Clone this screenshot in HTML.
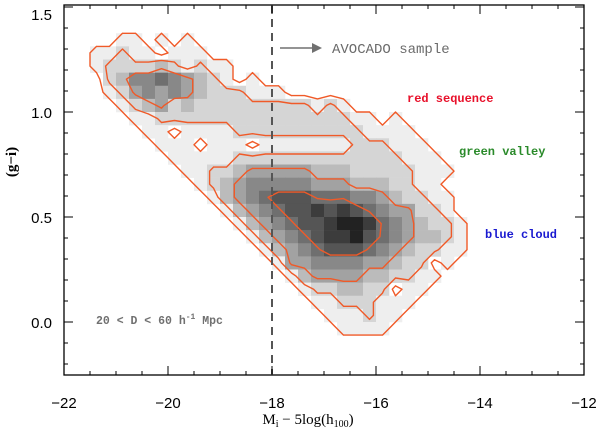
<!DOCTYPE html>
<html><head><meta charset="utf-8"><style>
html,body{margin:0;padding:0;background:#fff;}
svg{display:block;}
</style></head><body>
<svg id="chart" width="600" height="429" viewBox="0 0 600 429" xmlns="http://www.w3.org/2000/svg">
<g id="cells"></g>
<g id="contours"></g>
<g id="axes"></g>
<g font-family="'Liberation Mono', monospace">
  <line x1="280" y1="48" x2="314" y2="48" stroke="#707070" stroke-width="1.5"/>
  <polygon points="322,48 312,43 312,53" fill="#707070"/>
  <text x="332" y="53" font-size="14" fill="#6a6a6a">AVOCADO sample</text>
  <text x="407" y="102" font-size="12" font-weight="bold" fill="#e8102a">red sequence</text>
  <text x="459" y="155" font-size="12" font-weight="bold" fill="#2a8a2a">green valley</text>
  <text x="485" y="238" font-size="12" font-weight="bold" fill="#1a1ad0">blue cloud</text>
  <text x="96" y="324" font-size="11.5" font-weight="bold" fill="#707070">20 &lt; D &lt; 60 h<tspan dy="-5" font-size="8">-1</tspan><tspan dy="5"> Mpc</tspan></text>
</g>
</svg>
<script>
// x bins start at -21.75 (width 0.25); y rows top edge at 1.375 descending (height 0.0625)
const xBinStart = -21.75, xBinWidth = 0.25;
const yBinTop = 1.375, yBinHeight = 0.0625;
const densityRows = [
"00011010100000000000000000000000",
"01121101110000000000000000000000",
"01222232121100000000000000000000",
"00235565432101000000000000000000",
"00124545432221110000000000000000",
"00012342322222222212100000000000",
"00001122222222222222211010000000",
"00000110111122222222221111000000",
"00000011101110111111122211100000",
"00000001111122222222222221110000",
"00000000112234444433322222111000",
"00000000012345555544433322110000",
"00000000001345677766655432211000",
"00000000000134567787876544221000",
"00000000000013456778998654322100",
"00000000000001345678897654332100",
"00000000000000134567776543221100",
"00000000000000014455554432201000",
"00000000000000001344443322110000",
"00000000000000000122332201100000",
"00000000000000000011222111000000",
"00000000000000000001112110000000",
"00000000000000000000111100000000",
"00000000000000000000000000000000"
];
const contourLevels = [0.5, 1.7, 3.6, 6.2];
const xTicks = [-22, -20, -18, -16, -14, -12];
const xTickLabels = ["−22", "−20", "−18", "−16", "−14", "−12"];
const yTicks = [0.0, 0.5, 1.0, 1.5];
const yTickLabels = ["0.0", "0.5", "1.0", "1.5"];
const sampleCut = -18;

const NS = "http://www.w3.org/2000/svg";
const L = 64, R = 584, T = 5, B = 375;
function X(v){ return 64 + (v + 22) * 52; }
function Y(v){ return 322 - v * 210; }
function mk(tag, attrs, parent){
  const e = document.createElementNS(NS, tag);
  for (const k in attrs) e.setAttribute(k, attrs[k]);
  parent.appendChild(e); return e;
}
const grid = densityRows.map(r => r.split("").map(Number));
const nR = grid.length, nC = grid[0].length;

const cg = document.getElementById("cells");
for (let r = 0; r < nR; r++) for (let c = 0; c < nC; c++) {
  const v = grid[r][c]; if (!v) continue;
  const g = Math.round(238 - 25.5 * (v - 1));
  const x0 = X(xBinStart + c * xBinWidth), x1 = X(xBinStart + (c + 1) * xBinWidth);
  const y0 = Y(yBinTop - r * yBinHeight), y1 = Y(yBinTop - (r + 1) * yBinHeight);
  const rect = mk("rect", {x: x0, y: y0, width: x1 - x0 + 0.3, height: y1 - y0 + 0.3, fill: `rgb(${g},${g},${g})`}, cg);
  
  
}

const cont = document.getElementById("contours");
function val(r, c){ return (r < 0 || c < 0 || r >= nR || c >= nC) ? 0 : grid[r][c]; }
function cx(c){ return X(xBinStart + (c + 0.5) * xBinWidth); }
function cy(r){ return Y(yBinTop - (r + 0.5) * yBinHeight); }
contourLevels.forEach(lv => {
  let d = "";
  for (let r = -1; r < nR; r++) for (let c = -1; c < nC; c++) {
    const a = val(r, c), b = val(r, c + 1), e = val(r + 1, c + 1), f = val(r + 1, c);
    const pts = [];
    const edges = [[a, b, [r, c], [r, c + 1]], [b, e, [r, c + 1], [r + 1, c + 1]], [e, f, [r + 1, c + 1], [r + 1, c]], [f, a, [r + 1, c], [r, c]]];
    edges.forEach(([p, q, P, Q]) => {
      if ((p >= lv) !== (q >= lv)) {
        const t = (lv - p) / (q - p);
        const rr = P[0] + (Q[0] - P[0]) * t, ccc = P[1] + (Q[1] - P[1]) * t;
        pts.push([cx(ccc), cy(rr)]);
      }
    });
    for (let i = 0; i + 1 < pts.length; i += 2)
      d += `M${pts[i][0].toFixed(1)},${pts[i][1].toFixed(1)}L${pts[i+1][0].toFixed(1)},${pts[i+1][1].toFixed(1)}`;
  }
  const p = mk("path", {d: d, fill: "none", stroke: "#f05a28", "stroke-width": 1.4, "stroke-linecap": "round"}, cont);
  
  
});

const ax = document.getElementById("axes");
const frame = mk("rect", {x: L, y: T, width: R - L, height: B - T, fill: "none", stroke: "#000", "stroke-width": 1.3}, ax);


const cut = mk("line", {x1: X(sampleCut), x2: X(sampleCut), y1: T, y2: B, stroke: "#555", "stroke-width": 2, "stroke-dasharray": "8,6"}, ax);


for (let v = -22; v <= -12.001; v += 0.5) {
  const major = Math.abs(v - Math.round(v / 2) * 2) < 1e-6, len = major ? 9 : 4;
  const x = X(v);
  const t1 = mk("line", {x1: x, x2: x, y1: B, y2: B - len, stroke: "#000", "stroke-width": 1}, ax);
  
  
  const t2 = mk("line", {x1: x, x2: x, y1: T, y2: T + len, stroke: "#000", "stroke-width": 1}, ax);
  
  
}
for (let i = -2; i <= 15; i++) {
  const v = i / 10, y = Y(v);
  if (y < T || y > B) continue;
  const len = (i % 5 === 0) ? 9 : 4;
  const t1 = mk("line", {x1: L, x2: L + len, y1: y, y2: y, stroke: "#000", "stroke-width": 1}, ax);
  
  
  const t2 = mk("line", {x1: R, x2: R - len, y1: y, y2: y, stroke: "#000", "stroke-width": 1}, ax);
  
  
}
xTicks.forEach((v, i) => {
  const t = mk("text", {x: X(v), y: 408, "text-anchor": "middle", "font-size": 15, "font-family": "'Liberation Sans', sans-serif"}, ax);
  t.textContent = xTickLabels[i];
  
  
});
yTicks.forEach((v, i) => {
  const t = mk("text", {x: 52, y: Math.max(Y(v) + 6, 20), "text-anchor": "end", "font-size": 15, "font-family": "'Liberation Sans', sans-serif"}, ax);
  t.textContent = yTickLabels[i];
  
  
});
const xt = mk("text", {x: 308, y: 424, "text-anchor": "middle", "font-size": 15, "font-family": "'Liberation Serif', serif"}, ax);
xt.innerHTML = 'M<tspan dy="3" font-size="10">i</tspan><tspan dy="-3"> − 5log(h</tspan><tspan dy="3" font-size="10">100</tspan><tspan dy="-3">)</tspan>';


const yt = mk("text", {x: 0, y: 0, "text-anchor": "middle", "font-size": 15, "font-weight": "bold", "font-family": "'Liberation Serif', serif", transform: "translate(16,162) rotate(-90)"}, ax);
yt.textContent = "(g−i)";


</script>
</body></html>
